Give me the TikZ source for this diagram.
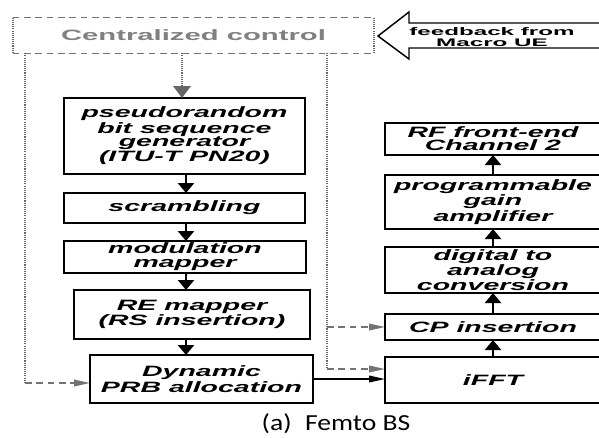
\documentclass[tikz,border=0pt]{standalone}
\usepackage{fontspec}
\setmainfont{Liberation Sans}
\newfontfamily\boxfont[FakeStretch=1.9]{Liberation Sans}
\newfontfamily\ctrlfont[FakeStretch=1.95]{Liberation Sans}
\newfontfamily\fbfont[FakeStretch=2.2]{Liberation Sans}
\newfontfamily\capfont[FakeStretch=1.2]{Carlito}
\usetikzlibrary{arrows.meta,positioning}

\begin{document}
\begin{tikzpicture}[
  x=0.75pt, y=-0.75pt,
  block/.style={draw, line width=0.9pt, align=center, inner sep=0pt, outer sep=0pt,
                font=\fontsize{11.25}{9.9}\selectfont\boxfont\bfseries\itshape},
  lblock/.style={block, minimum width=180.75pt},
  rblock/.style={block, minimum width=162pt},
  rim/.style={line width=2.2pt},
  flow/.style={line width=1.9pt, -{Triangle[width=12pt,length=7.5pt]}},
  link/.style={line width=1.1pt, -{Triangle[width=5pt,length=12pt]}},
  ctl/.style={black!55, line width=1.1pt, dash pattern=on 5pt off 3.5pt,
              -{Triangle[width=5pt,length=12pt]}},
  bus/.style={black!60, line width=1.8pt, dash pattern=on 0.8pt off 0.8pt},
  frame/.style={black!55, line width=1.1pt, dash pattern=on 5pt off 3.5pt}
]
\useasboundingbox (0,0) rectangle (599,437);

% centralized control and feedback
\node[inner sep=0pt, minimum width=270.75pt, minimum height=26.25pt,
      text=black!50, font=\fontsize{11.25}{12}\selectfont\ctrlfont\bfseries]
  (ctrl) at (193.5,35.5) {Centralized control};
\draw[frame] (ctrl.north west) -- (ctrl.north east);
\draw[frame] (ctrl.south west) -- (ctrl.south east);
\draw[bus] (ctrl.north west) -- (ctrl.south west);
\draw[bus] (ctrl.north east) -- (ctrl.south east);
\draw[line width=1.1pt] (601,23) -- (409,23) -- (409,12) -- (378,36)
  -- (409,59) -- (409,48) -- (601,48);
\node[align=center, inner sep=0pt,
      font=\fontsize{8.25}{7.9}\selectfont\fbfont\bfseries]
  (fb) at (492,37) {feedback from\\Macro UE};

% transmitter chain
\node[lblock, minimum height=57pt] (prng) at (184.5,136)
  {pseudorandom\\bit sequence\\generator\\(ITU-T PN20)};
\node[lblock, minimum height=22.5pt] (scram) at (184.5,208) {scrambling};
\node[lblock, minimum width=181.5pt, minimum height=24pt,
      font=\fontsize{11.25}{10.4}\selectfont\boxfont\bfseries\itshape]
  (modmap) at (185,257) {modulation\\mapper};
\node[block, minimum width=177pt, minimum height=36.75pt] (remap) at (192,314.5)
  {RE mapper\\(RS insertion)};
\node[block, minimum width=167.25pt, minimum height=36pt] (prb) at (201.5,379)
  {Dynamic\\PRB allocation};

\node[rblock, minimum height=34.5pt] (ifft) at (493,380) {iFFT};
\node[rblock, minimum height=19.5pt] (cp) at (493,327) {CP insertion};
\node[rblock, minimum height=34.5pt] (dac) at (493,270)
  {digital to\\analog\\conversion};
\node[rblock, minimum height=40.5pt] (pga) at (493,202)
  {programmable\\gain\\amplifier};
\node[rblock, minimum height=24pt] (rf) at (493,139)
  {RF front-end\\Channel 2};

\foreach \n in {prng,scram,modmap,remap,prb,rf,pga,dac,cp,ifft}
  \draw[rim] (\n.north west) -- (\n.south west) -- (\n.south east);

\coordinate (lx) at (186,0);
\draw[flow] (prng.south -| lx) -- (scram.north -| lx);
\draw[flow] (scram.south -| lx) -- (modmap.north -| lx);
\draw[flow] (modmap.south -| lx) -- (remap.north -| lx);
\draw[flow] (remap.south -| lx) -- (prb.north -| lx);
\draw[link] (prb.east) -- (prb.east -| ifft.west);
\draw[flow] (ifft) -- (cp);
\draw[flow] (cp) -- (dac);
\draw[flow] (dac) -- (pga);
\draw[flow] (pga) -- (rf);

% control lines
\coordinate (lbus) at (25,383);
\coordinate (rbus) at (327,369);
\draw[bus, -{Triangle[width=13pt,length=9pt]}] (ctrl.south -| 182,0) -- (prng.north -| 182,0);
\draw[bus] (ctrl.south -| lbus) -- (lbus);
\draw[ctl] (lbus) -- (lbus -| prb.west);
\draw[bus] (ctrl.south -| rbus) -- (rbus);
\draw[ctl] (rbus) -- (rbus -| ifft.west);
\draw[ctl] (cp.west -| rbus) -- (cp.west);

\node[anchor=base, inner sep=0pt, font=\fontsize{17.25}{20}\selectfont\capfont]
  (cap) at (336,430) {(a)\hspace{10pt}Femto BS};
\end{tikzpicture}
\end{document}
